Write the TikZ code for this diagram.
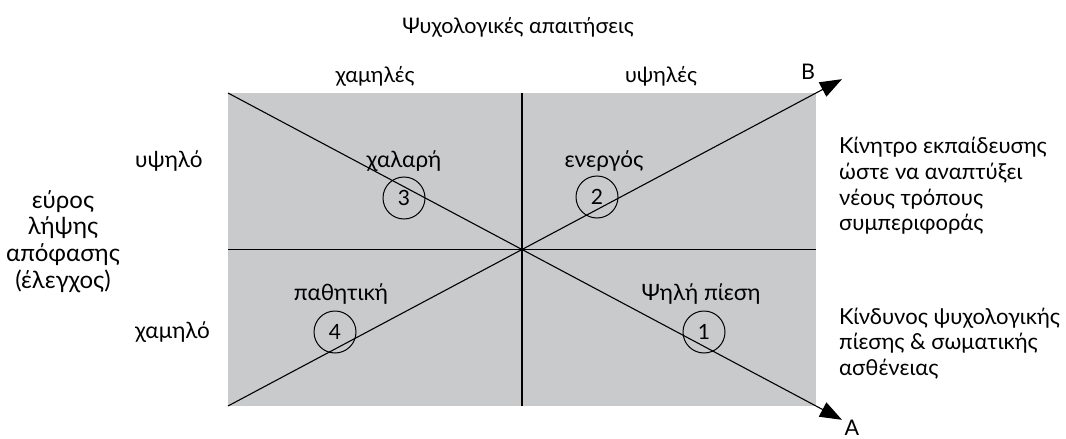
\documentclass[tikz,border=0pt]{standalone}
\usepackage{fontspec}
\setmainfont{Lato}
\usetikzlibrary{arrows.meta,calc}
\definecolor{boxgray}{RGB}{201,202,204}
\begin{document}
\begin{tikzpicture}[x=1pt,y=-1pt,
  lbl/.style={font=\fontsize{22.5}{26}\selectfont, inner sep=0pt, anchor=base},
  toplbl/.style={font=\fontsize{21.5}{26}\selectfont, inner sep=0pt, anchor=base},
  blk/.style={inner sep=0pt},
  num/.style={draw, circle, minimum size=42pt, inner sep=0pt, line width=1pt, font=\fontsize{21}{26}\selectfont},
  axis/.style={line width=1.1pt},
  arr/.style={line width=1.1pt, -{Triangle[length=22pt,width=16pt]}}]
\useasboundingbox (0,0) rectangle (1066,439);
\coordinate (tl) at (228,93);
\coordinate (br) at (816,406);
\coordinate (tr) at (816,93);
\coordinate (bl) at (228,406);
\coordinate (tm) at (522,93);
\coordinate (bm) at (522,406);
\coordinate (lm) at (228,249.5);
\coordinate (rm) at (816,249.5);
\fill[boxgray] (tl) rectangle (br);
\draw[axis] (tm) -- (bm);
\draw[axis] (lm) -- (rm);
\coordinate (Atip) at ($(tl)!1.0442!(br)$);
\coordinate (Btip) at ($(bl)!1.0442!(tr)$);
\draw[arr] (tl) -- (Atip);
\draw[arr] (bl) -- (Btip);
% circles
\node[num] (c3) at (404,198) {3};
\node[num] (c2) at (597,197) {2};
\node[num] (c4) at (335,332) {4};
\node[num] (c1) at (704,332) {1};
% quadrant labels
\node[lbl] (q3) at (404,167) {χαλαρή};
\node[lbl] (q2) at (604,167) {ενεργός};
\node[lbl] (q4) at (341,300) {παθητική};
\node[lbl] (q1) at (701,300) {Ψηλή πίεση};
% top
\node[toplbl] (title) at (518,33) {Ψυχολογικές απαιτήσεις};
\node[toplbl] (low) at (375,82) {χαμηλές};
\node[toplbl] (high) at (661,82) {υψηλές};
\node[toplbl] (B) at (808,79) {B};
\node[toplbl] (A) at (852,435) {A};
% left
\node[lbl, anchor=base west] (hi) at (135,167) {υψηλό};
\node[lbl, anchor=base west] (lo) at (135,338) {χαμηλό};
\node[blk, anchor=north, align=center, font=\fontsize{24}{26.7}\selectfont] (ctrl) at (63,190) {εύρος\\λήψης\\απόφασης\\(έλεγχος)};
% right
\node[blk, anchor=north west, align=left, font=\fontsize{22}{25.7}\selectfont] (t1) at (839,137) {Κίνητρο εκπαίδευσης\\ώστε να αναπτύξει\\νέους τρόπους\\συμπεριφοράς};
\node[blk, anchor=north west, align=left, font=\fontsize{22}{25.2}\selectfont] (t2) at (839,308) {Κίνδυνος ψυχολογικής\\πίεσης \& σωματικής\\ασθένειας};
\end{tikzpicture}
\end{document}
